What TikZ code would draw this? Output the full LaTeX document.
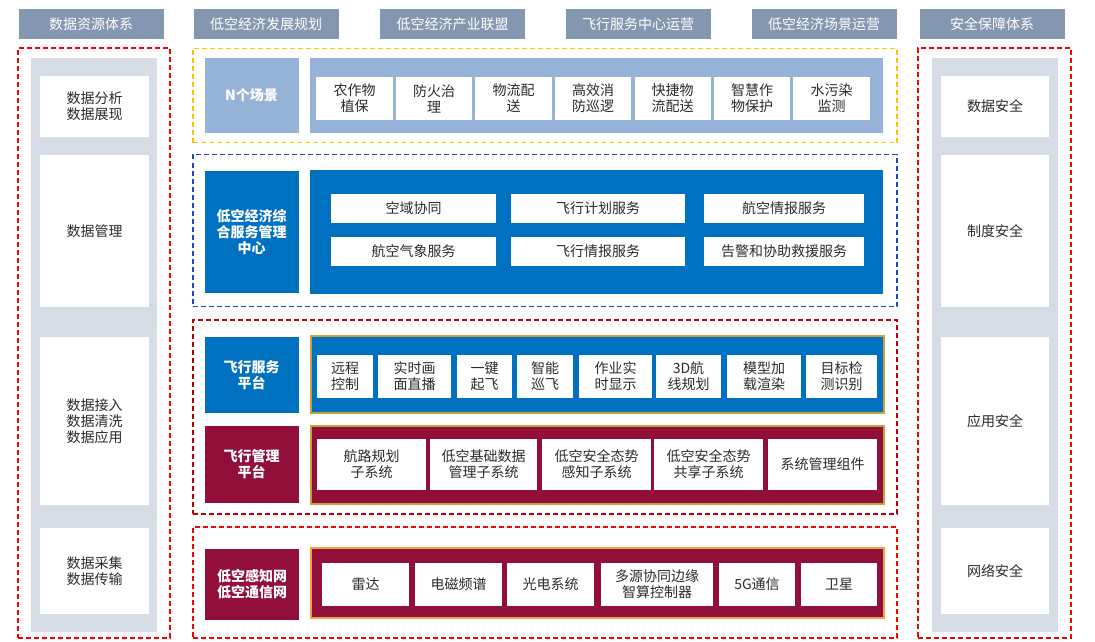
\documentclass[tikz,border=0pt]{standalone}
\usepackage{fontspec}
\setmainfont{Noto Sans CJK SC}
\usetikzlibrary{positioning}

\definecolor{hdrgray}{HTML}{8497B0}
\definecolor{colgray}{HTML}{D6DCE5}
\definecolor{skyblue}{HTML}{95B3D7}
\definecolor{midblue}{HTML}{0070C0}
\definecolor{wine}{HTML}{920F3A}
\definecolor{rimgold}{HTML}{C9A23A}
\definecolor{rimorange}{HTML}{F2A04A}
\definecolor{frameblue}{HTML}{1F48D0}
\definecolor{framedark}{HTML}{C00000}
\definecolor{framered}{HTML}{FF0000}
\definecolor{frameyellow}{HTML}{FFC000}
\definecolor{inktext}{HTML}{2B2B2B}

\begin{document}
\begin{tikzpicture}[x=1pt,y=-1pt,font=\fontsize{14pt}{16pt}\selectfont]
  \tikzstyle{hdr}=[fill=hdrgray,text=white,minimum width=145pt,minimum height=30pt,inner sep=0pt]
  \tikzstyle{dashbox}=[draw,line width=1.8pt,dash pattern=on 5pt off 3pt,inner sep=0pt]
  \tikzstyle{column}=[fill=colgray,inner sep=0pt,minimum width=126pt,minimum height=574pt]
  \tikzstyle{cell}=[fill=white,text=inktext,align=center,inner sep=0pt]
  \tikzstyle{tag}=[text=white,font=\fontsize{14pt}{16pt}\selectfont\bfseries,align=center,inner sep=0pt,minimum width=94pt]
  \tikzstyle{panel}=[inner sep=0pt,minimum width=573pt]

  \path[use as bounding box,fill=white] (0,0) rectangle (1095,642);

  \node[hdr] (hdrdata) at (91,24.5) {数据资源体系};
  \node[hdr] (hdrplan) at (266,24.5) {低空经济发展规划};
  \node[hdr] (hdrunion) at (452.5,24.5) {低空经济产业联盟};
  \node[hdr] (hdrcenter) at (638,24.5) {飞行服务中心运营};
  \node[hdr] (hdrscene) at (824,24.5) {低空经济场景运营};
  \node[hdr] (hdrsafe) at (992,24.5) {安全保障体系};

  \node[dashbox,draw=framered,minimum width=152pt,minimum height=590pt] (leftframe) at (94,343) {};
  \node[column] (leftcol) at (94,345) {};
  \node[cell,minimum width=109pt,minimum height=61pt] (dataview) at (94.5,106.5) {数据分析\\数据展现};
  \node[cell,minimum width=109pt,minimum height=152pt] (datamgmt) at (94.5,231) {数据管理};
  \node[cell,minimum width=109pt,minimum height=168pt] (dataproc) at (94.5,421) {数据接入\\数据清洗\\数据应用};
  \node[cell,minimum width=109pt,minimum height=86pt] (datacollect) at (94.5,571) {数据采集\\数据传输};

  \node[dashbox,draw=framered,minimum width=153pt,minimum height=590pt] (rightframe) at (994.5,343) {};
  \node[column] (rightcol) at (995,345) {};
  \node[cell,minimum width=108pt,minimum height=61pt] (safedata) at (995,106.5) {数据安全};
  \node[cell,minimum width=108pt,minimum height=152pt] (saferule) at (995,231) {制度安全};
  \node[cell,minimum width=108pt,minimum height=168pt] (safeapp) at (995,421) {应用安全};
  \node[cell,minimum width=108pt,minimum height=86pt] (safenet) at (995,571) {网络安全};

  \node[dashbox,draw=frameyellow,minimum width=704pt,minimum height=94pt] (sceneframe) at (545,95.5) {};
  \node[tag,fill=skyblue,minimum height=75pt] (scenetag) at (251.5,95.5) {N个场景};
  \node[panel,fill=skyblue,minimum height=75pt] (scenepanel) at (596.5,95.5) {};
  \node[cell,minimum width=77pt,minimum height=43pt] (farm) at (354.5,98.5) {农作物\\植保};
  \node[cell,minimum width=76pt,minimum height=43pt] (fire) at (434,98.5) {防火治\\理};
  \node[cell,minimum width=77pt,minimum height=43pt] (logist) at (513.5,98.5) {物流配\\送};
  \node[cell,minimum width=76pt,minimum height=43pt] (patrol) at (593,98.5) {高效消\\防巡逻};
  \node[cell,minimum width=76pt,minimum height=43pt] (express) at (672.5,98.5) {快捷物\\流配送};
  \node[cell,minimum width=76pt,minimum height=43pt] (crop) at (752,98.5) {智慧作\\物保护};
  \node[cell,minimum width=77pt,minimum height=43pt] (water) at (831.5,98.5) {水污染\\监测};

  \node[dashbox,draw=frameblue,minimum width=704pt,minimum height=152pt] (centerframe) at (545,230.5) {};
  \node[tag,fill=midblue,minimum height=122pt] (centertag) at (251.5,232) {低空经济综\\合服务管理\\中心};
  \node[panel,fill=midblue,minimum height=124pt] (centerpanel) at (596.5,232) {};
  \node[cell,minimum width=165pt,minimum height=29pt] (airspace) at (413.5,208.5) {空域协同};
  \node[cell,minimum width=174pt,minimum height=29pt] (flightplan) at (598,208.5) {飞行计划服务};
  \node[cell,minimum width=160pt,minimum height=29pt] (aeroinfo) at (784,208.5) {航空情报服务};
  \node[cell,minimum width=165pt,minimum height=29pt] (weather) at (413.5,251.5) {航空气象服务};
  \node[cell,minimum width=174pt,minimum height=29pt] (flightinfo) at (598,251.5) {飞行情报服务};
  \node[cell,minimum width=160pt,minimum height=29pt] (alert) at (784,251.5) {告警和协助救援服务};

  \node[dashbox,draw=framedark,minimum width=704pt,minimum height=194pt] (platformframe) at (545,417) {};
  \node[tag,fill=midblue,minimum height=76pt] (servicetag) at (251.5,375) {飞行服务\\平台};
  \node[panel,fill=midblue,draw=rimgold,line width=1.2pt,minimum height=77pt] (servicepanel) at (597.5,374.5) {};
  \node[cell,minimum width=56pt,minimum height=43pt] (remote) at (345,376.5) {远程\\控制};
  \node[cell,minimum width=73pt,minimum height=43pt] (live) at (414.5,376.5) {实时画\\面直播};
  \node[cell,minimum width=55pt,minimum height=43pt] (takeoff) at (484.5,376.5) {一键\\起飞};
  \node[cell,minimum width=56pt,minimum height=43pt] (cruise) at (545,376.5) {智能\\巡飞};
  \node[cell,minimum width=73pt,minimum height=43pt] (display) at (615.5,376.5) {作业实\\时显示};
  \node[cell,minimum width=65pt,minimum height=43pt] (route3d) at (688.5,376.5) {3D航\\线规划};
  \node[cell,minimum width=74pt,minimum height=43pt] (render) at (764,376.5) {模型加\\载渲染};
  \node[cell,minimum width=71pt,minimum height=43pt] (detect) at (841.5,376.5) {目标检\\测识别};

  \node[tag,fill=wine,minimum height=77pt] (mgmttag) at (251.5,464.5) {飞行管理\\平台};
  \node[panel,fill=wine,draw=rimgold,line width=1.2pt,minimum height=78pt] (mgmtpanel) at (597.5,465) {};
  \node[cell,minimum width=109pt,minimum height=51pt] (routeplan) at (371.5,464.5) {航路规划\\子系统};
  \node[cell,minimum width=107pt,minimum height=51pt] (basedata) at (483.5,464.5) {低空基础数据\\管理子系统};
  \node[cell,minimum width=109pt,minimum height=51pt] (sense) at (596.5,464.5) {低空安全态势\\感知子系统};
  \node[cell,minimum width=109pt,minimum height=51pt] (share) at (708.5,464.5) {低空安全态势\\共享子系统};
  \node[cell,minimum width=109pt,minimum height=51pt] (sysmgmt) at (822.5,464.5) {系统管理组件};

  \node[dashbox,draw=framered,minimum width=704pt,minimum height=111pt] (netframe) at (545,582.5) {};
  \node[tag,fill=wine,minimum height=71pt] (nettag) at (252,584.5) {低空感知网\\低空通信网};
  \node[panel,fill=wine,draw=rimorange,line width=1.2pt,minimum height=70pt] (netpanel) at (597.5,583) {};
  \node[cell,minimum width=87pt,minimum height=43pt] (radar) at (365.5,584.5) {雷达};
  \node[cell,minimum width=87pt,minimum height=43pt] (spectrum) at (458.5,584.5) {电磁频谱};
  \node[cell,minimum width=87pt,minimum height=43pt] (optic) at (550.5,584.5) {光电系统};
  \node[cell,minimum width=112pt,minimum height=43pt] (edge) at (657,584.5) {多源协同边缘\\智算控制器};
  \node[cell,minimum width=76pt,minimum height=43pt] (fiveg) at (757,584.5) {5G通信};
  \node[cell,minimum width=76pt,minimum height=43pt] (satellite) at (839,584.5) {卫星};
\end{tikzpicture}
\end{document}
